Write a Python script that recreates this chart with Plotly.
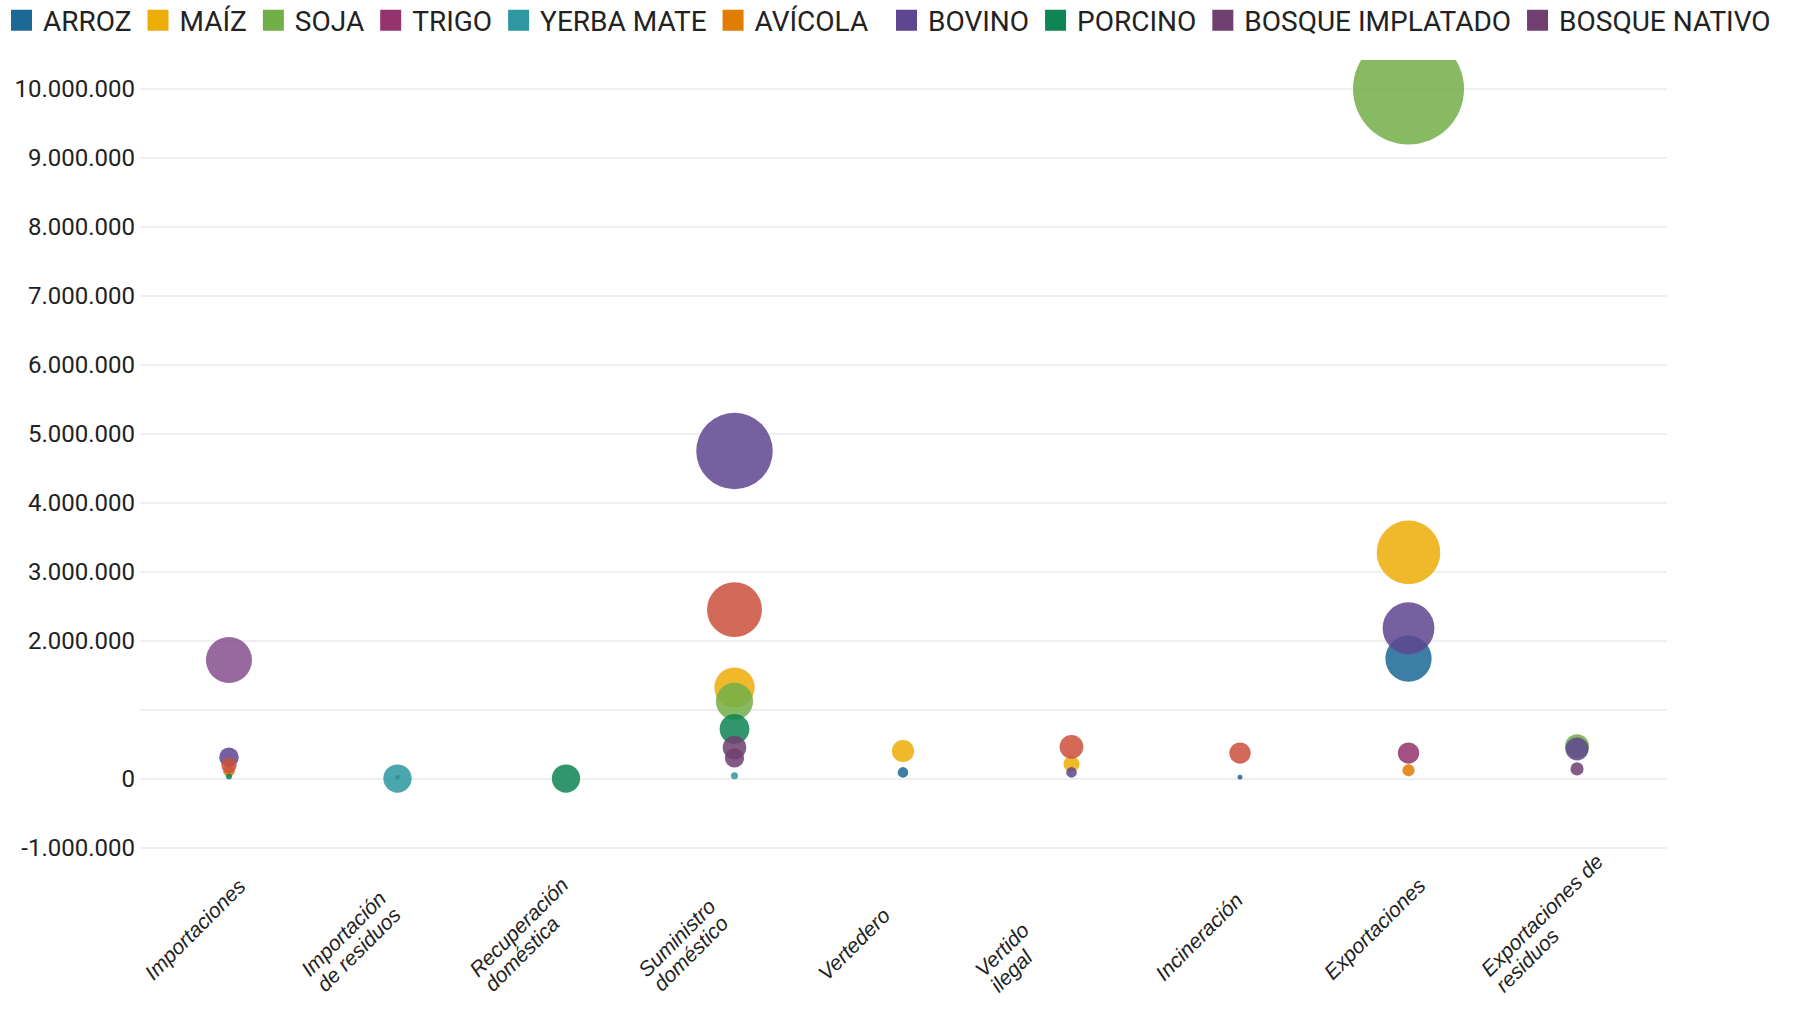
import plotly.graph_objects as go

# Flow categories along the x axis
categorias = [
    "Importaciones",
    "Importación<br>de residuos",
    "Recuperación<br>doméstica",
    "Suministro<br>doméstico",
    "Vertedero",
    "Vertido<br>ilegal",
    "Incineración",
    "Exportaciones",
    "Exportaciones de<br>residuos",
]

# Tonnes per flow and product (None = no bubble)
arroz = [None, 20_000, None, None, 90_000, None, 20_000, 1_740_000, None]
maiz = [None, None, None, 1_320_000, 400_000, 210_000, None, 3_280_000, None]
soja = [None, None, None, 1_120_000, None, None, None, 10_000_000, 470_000]
trigo = [None, None, None, None, None, None, None, 370_000, None]
yerba_mate = [None, 0, None, 40_000, None, None, None, None, None]
avicola = [110_000, None, None, None, None, None, None, 120_000, None]
bovino = [310_000, None, None, 4_750_000, None, 90_000, None, 2_180_000, 430_000]
porcino = [30_000, None, 0, 720_000, None, None, None, None, None]
bosque_implantado = [None, None, None, 450_000, None, None, None, None, None]
bosque_nativo = [None, None, None, 300_000, None, None, None, None, 140_000]
serie_roja = [190_000, None, None, 2_450_000, None, 460_000, 370_000, None, None]
serie_lila = [1_720_000, None, None, None, None, None, None, None, None]

# Bubble area where it differs from the plotted value
yerba_mate_area = [None, 650_000, None, 40_000, None, None, None, None, None]
porcino_area = [30_000, None, 650_000, 720_000, None, None, None, None, None]

# (name, values, area override, colour, legend slot)
series = [
    ("ARROZ", arroz, None, "#1D6996", "legend"),
    ("MAÍZ", maiz, None, "#EDAD08", "legend"),
    ("SOJA", soja, None, "#73AF48", "legend"),
    ("TRIGO", trigo, None, "#94346E", "legend"),
    ("YERBA MATE", yerba_mate, yerba_mate_area, "#2F979F", "legend"),
    ("AVÍCOLA", avicola, None, "#E17C05", "legend"),
    ("BOVINO", bovino, None, "#5F4690", "legend2"),
    ("PORCINO", porcino, porcino_area, "#0F8554", "legend2"),
    ("BOSQUE IMPLATADO", bosque_implantado, None, "#6F4070", "legend2"),
    ("BOSQUE NATIVO", bosque_nativo, None, "#6F4070", "legend2"),
    ("", serie_roja, None, "#CC503E", None),
    ("", serie_lila, None, "#87508F", None),
]

y_ticks = [-1_000_000, 0, 1_000_000, 2_000_000, 3_000_000, 4_000_000, 5_000_000,
           6_000_000, 7_000_000, 8_000_000, 9_000_000, 10_000_000]


def miles(v):
    return f"{v:,}".replace(",", ".")


y_ticktext = ["" if v == 1_000_000 else miles(v) for v in y_ticks]

max_diam = 111
max_val = max(v for _, vals, _, _, _ in series for v in vals if v is not None)
sizeref = 2 * max_val / max_diam ** 2

fig = go.Figure()
for nombre, vals, area, color, leyenda in series:
    xs, ys, ss = [], [], []
    for i, v in enumerate(vals):
        if v is None:
            continue
        xs.append(categorias[i])
        ys.append(v)
        ss.append(area[i] if area is not None else v)
    fig.add_trace(go.Scatter(
        x=xs, y=ys, mode="markers", name=nombre,
        showlegend=False, legendgroup=nombre or None,
        marker=dict(size=ss, sizemode="area", sizeref=sizeref, sizemin=0,
                    color=color, opacity=0.86, line=dict(width=0)),
        cliponaxis=True,
    ))
    if leyenda:
        # legend swatch
        fig.add_trace(go.Scatter(
            x=[None], y=[None], mode="markers", name=nombre, legendgroup=nombre,
            legend=leyenda,
            marker=dict(symbol="square", size=16, color=color,
                        line=dict(width=5, color=color)),
            showlegend=True,
        ))

PLOT_TOP, PLOT_H = 60, 791
legend_style = dict(
    orientation="h", xref="container", yref="paper",
    y=1 + (PLOT_TOP + 4.5) / PLOT_H, xanchor="left", yanchor="top",
    font=dict(family="Roboto", size=28, color="#222222"),
    itemsizing="trace", itemwidth=33, tracegroupgap=0, itemclick=False,
    bgcolor="rgba(0,0,0,0)",
)

# Rotated category labels: each line starts at a common point below its
# category, following lines stepped down along the perpendicular
LINE_STEP = 21
for i, cat in enumerate(categorias):
    lineas = cat.split("<br>")
    n = len(lineas)
    back = 6 if n > 1 else 0
    for k, linea in enumerate(lineas):
        d = (k - (n - 1) / 2) * LINE_STEP * 0.7071
        fig.add_annotation(
            x=i, xref="x", y=0, yref="paper",
            xshift=-92 + d - back * 0.7071, yshift=-136 - d - back * 0.7071,
            text=linea, textangle=-45,
            xanchor="left", yanchor="bottom", showarrow=False,
            font=dict(family="Liberation Sans", size=21, style="italic", color="#222222"),
        )

fig.update_layout(
    width=1794, height=1009,
    paper_bgcolor="white", plot_bgcolor="white",
    margin=dict(l=140, r=127, t=PLOT_TOP, b=1009 - PLOT_TOP - PLOT_H, autoexpand=False),
    font=dict(family="Roboto", color="#222222"),
    showlegend=True,
    legend=dict(x=0.0, **legend_style),
    legend2=dict(x=0.4933, **legend_style),
    xaxis=dict(
        type="category", categoryorder="array", categoryarray=categorias,
        range=[-0.528, 8.534], showgrid=False, zeroline=False, showline=False,
        ticks="", showticklabels=False,
    ),
    yaxis=dict(
        range=[-1_050_000, 10_420_000], tickvals=y_ticks, ticktext=y_ticktext,
        showgrid=True, gridcolor="#efefef", gridwidth=2,
        zeroline=True, zerolinecolor="#efefef", zerolinewidth=2,
        showline=False, ticks="", ticklabelstandoff=4,
        tickfont=dict(family="Roboto", size=24, color="#222222"),
    ),
)

fig.write_html("out.html")
